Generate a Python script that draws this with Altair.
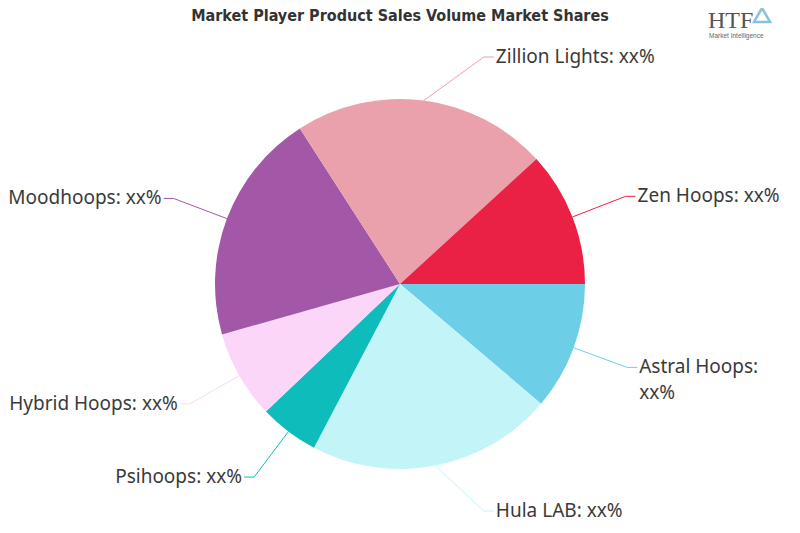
import math
import pandas as pd
import altair as alt

# ---- data ----
names = ["Astral Hoops", "Hula LAB", "Psihoops", "Hybrid Hoops",
         "Moodhoops", "Zillion Lights", "Zen Hoops"]
shares = [11.2, 21.5, 5.2, 7.7, 20.3, 22.3, 11.8]
value_label = "xx%"
colors = ["#6ccfe7", "#c3f4f8", "#0fbcbc", "#fcd6f9",
          "#a358a7", "#eba1ab", "#ea2144"]
title_text = "Market Player Product Sales Volume Market Shares"

df = pd.DataFrame({"idx": list(range(len(names))), "name": names, "share": shares})

# ---- layout ----
W, H = 784, 482
R = 185          # pie radius
RL = 242         # elbow radius of the leader lines
YCLAMP = 227
LEN2 = 10
FONT = "Noto Sans"
FS = 19

xs = alt.Scale(domain=[-W / 2, W / 2], nice=False, zero=False)
ys = alt.Scale(domain=[-H / 2, H / 2], nice=False, zero=False)
cs = alt.Scale(domain=names, range=colors)

base = alt.Chart(df).transform_window(
    cum="sum(share)", sort=[{"field": "idx"}], frame=[None, 0]
).transform_joinaggregate(
    total="sum(share)"
).transform_calculate(
    a="PI/2 + 2*PI*(datum.cum - datum.share/2)/datum.total",
).transform_calculate(
    s="sin(datum.a) >= 0 ? 1 : -1",
    xe0=f"{R}*sin(datum.a)",
    ye0=f"{R}*cos(datum.a)",
    yb=f"clamp({RL}*cos(datum.a), {-YCLAMP}, {YCLAMP})",
).transform_calculate(
    xb=f"datum.s*sqrt({RL}*{RL} - datum.yb*datum.yb)",
).transform_calculate(
    xc=f"datum.xb + datum.s*{LEN2}",
).transform_calculate(
    xt="datum.xc + datum.s*2",
    full=f"datum.name + ': {value_label}'",
).transform_calculate(
    lab=f"(datum.s > 0 && datum.xt + length(datum.full)*{FS*0.55} > {W/2 - 8}) ? datum.name + ':|{value_label}' : datum.full"
)

pie = alt.Chart(df).mark_arc(outerRadius=R).encode(
    theta=alt.Theta("share:Q", stack=True,
                    scale=alt.Scale(range=[math.pi / 2, math.pi / 2 + 2 * math.pi])),
    color=alt.Color("name:N", scale=cs, legend=None),
    order=alt.Order("idx:Q"),
)

line1 = base.mark_rule(strokeWidth=1).encode(
    x=alt.X("xe0:Q", scale=xs, axis=None),
    y=alt.Y("ye0:Q", scale=ys, axis=None),
    x2="xb:Q", y2="yb:Q",
    color=alt.Color("name:N", scale=cs, legend=None),
)
line2 = base.mark_rule(strokeWidth=1).encode(
    x=alt.X("xb:Q", scale=xs, axis=None),
    y=alt.Y("yb:Q", scale=ys, axis=None),
    x2="xc:Q", y2="yb:Q",
    color=alt.Color("name:N", scale=cs, legend=None),
)

txt_kw = dict(fontSize=FS, font=FONT, color="#3a3a3a", baseline="middle",
              lineBreak="|", lineHeight=26)
text_r = base.transform_filter("datum.s > 0").mark_text(align="left", **txt_kw).encode(
    x=alt.X("xt:Q", scale=xs, axis=None),
    y=alt.Y("yb:Q", scale=ys, axis=None),
    text="lab:N",
)
text_l = base.transform_filter("datum.s < 0").mark_text(align="right", **txt_kw).encode(
    x=alt.X("xt:Q", scale=xs, axis=None),
    y=alt.Y("yb:Q", scale=ys, axis=None),
    text="lab:N",
)

one = alt.Chart(df).transform_filter("datum.idx == 0")
title = one.mark_text(
    text=title_text, font="DejaVu Sans Condensed", fontWeight="bold", fontSize=16,
    color="#333333", align="center", baseline="middle"
).encode(x=alt.value(W / 2), y=alt.value(-27))
logo1 = one.mark_text(
    text="HTF", font="Liberation Serif", fontSize=24, color="#555555",
    align="left", baseline="alphabetic"
).encode(x=alt.value(700), y=alt.value(-15))
logo2 = one.mark_text(
    text="Market Intelligence", font="Liberation Sans", fontSize=6.5, color="#666666",
    align="left", baseline="alphabetic"
).encode(x=alt.value(701), y=alt.value(-5))
logo3 = one.mark_point(
    shape="triangle-up", size=260, strokeWidth=2.5, color="#5aa6cf", filled=False
).encode(x=alt.value(754), y=alt.value(-28))

chart = alt.layer(pie, line1, line2, text_r, text_l, title, logo1, logo2, logo3).properties(
    width=W, height=H,
    autosize=alt.AutoSizeParams(type="none"),
    padding={"top": 35, "left": 0, "right": 0, "bottom": 0},
).configure_view(stroke=None)

chart.save("out.html", embed_options={"renderer": "svg", "actions": False})
